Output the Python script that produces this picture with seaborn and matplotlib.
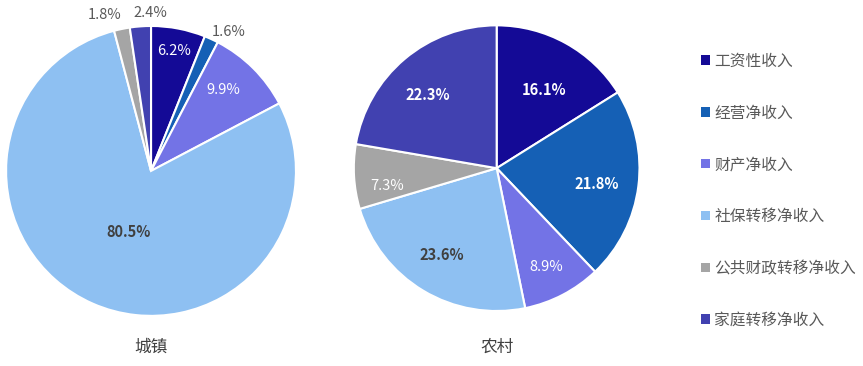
import numpy as np
import pandas as pd
import matplotlib
matplotlib.use("Agg")
import matplotlib.pyplot as plt
import seaborn as sns
from matplotlib.patches import Patch

sns.set_theme(style="white")
plt.rcParams['font.family'] = ['Noto Sans CJK SC', 'DejaVu Sans']

# data
categories = ["工资性收入", "经营净收入", "财产净收入", "社保转移净收入", "公共财政转移净收入", "家庭转移净收入"]
urban = [6.2, 1.6, 9.9, 80.5, 1.8, 2.4]
rural = [16.1, 21.8, 8.9, 23.6, 7.3, 22.3]
groups = ["城镇", "农村"]

colors = sns.color_palette(["#140a96", "#1560b5", "#7373e6", "#8ec0f2", "#a5a5a5", "#4141b0"])

# label styling per slice: (distance, angle shift, color, bold)
urban_style = [(0.84, 0, "white", False), (1.10, -4.5, "#595959", False), (0.75, 3, "white", False),
               (0.45, 4, "#404040", True), (1.12, 5, "#595959", False), (1.09, -4, "#595959", False)]
rural_style = [(0.64, -2, "white", True), (0.71, -2, "white", True), (0.77, -1, "white", False),
               (0.72, -1, "#404040", True), (0.78, 6, "white", False), (0.70, 3, "white", True)]

fig = plt.figure(figsize=(8.63, 3.66), dpi=100)
ax1 = fig.add_axes([0.007, 0.137, 0.336, 0.792])
ax2 = fig.add_axes([0.410, 0.150, 0.331, 0.781])


def draw_pie(ax, values, styles, title, tx):
    wedges, _ = ax.pie(values, colors=colors, startangle=90, counterclock=False,
                       wedgeprops=dict(edgecolor="white", linewidth=1.5))
    for w, v, (d, da, c, b) in zip(wedges, values, styles):
        mid = np.deg2rad((w.theta1 + w.theta2) / 2 + da)
        ax.text(d * np.cos(mid), d * np.sin(mid), f"{v:.1f}%", ha="center", va="center",
                color=c, fontsize=10.5, fontweight="bold" if b else "normal")
    ax.set_xlim(-1, 1)
    ax.set_ylim(-1, 1)
    ax.set_aspect("equal")
    ax.axis("off")
    fig.text(tx, 0.052, title, ha="center", va="center", fontsize=12, color="#404040")


draw_pie(ax1, urban, urban_style, groups[0], 151 / 863)
draw_pie(ax2, rural, rural_style, groups[1], 497 / 863)

handles = [Patch(facecolor=c, edgecolor="none") for c in colors]
fig.legend(handles, categories, loc="upper left", bbox_to_anchor=(0.796, 0.895),
           frameon=False, fontsize=11.3, labelcolor="#595959", handlelength=0.55,
           handleheight=0.55, handletextpad=0.3, labelspacing=2.22)

plt.savefig("out.png", dpi=100)
